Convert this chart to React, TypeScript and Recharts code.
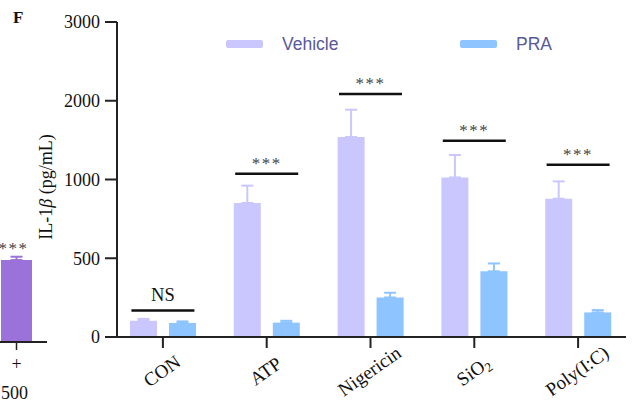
import { Bar, BarChart, ComposedChart, ErrorBar, LabelList, Legend, Scatter, XAxis, YAxis } from "recharts";

const categories = ["CON", "ATP", "Nigericin", "SiO2", "Poly(I:C)"];
const vehicleMean = [103, 851, 1540, 1026, 878];
const vehicleSem = [12, 110, 346, 285, 110];
const praMean = [89, 91, 251, 417, 156];
const praSem = [10, 12, 30, 50, 15];
const sigLevel = [169, 1074, 2086, 1493, 1188];
const sigText = ["NS", "***", "***", "***", "***"];
const yTicks = [0, 500, 1000, 2000, 3000];

// neighbouring panel, cut off at the left edge
const prevDose = ["+"];
const prevConc = ["500"];
const prevMean = [512];
const prevSem = [21];

const VEHICLE = "#c9c7fd";
const PRA = "#8ec4ff";
const SERIF = "'Liberation Serif', 'Times New Roman', serif";
const SANS = "'Liberation Sans', Arial, sans-serif";

// y axis is split at 1000: above it every unit gets half the height
const BREAK = 1000;
const squash = (v: number) => (v <= BREAK ? v : BREAK + (v - BREAK) / 2);
const unsquash = (v: number) => (v <= BREAK ? v : BREAK + (v - BREAK) * 2);

const rows = categories.map((name, i) => ({
  name,
  vehicle: squash(vehicleMean[i]),
  vehicleErr: [0, squash(vehicleMean[i] + vehicleSem[i]) - squash(vehicleMean[i])],
  pra: squash(praMean[i]),
  praErr: [0, squash(praMean[i] + praSem[i]) - squash(praMean[i])],
  sig: squash(sigLevel[i]),
  sigText: sigText[i],
}));

const prevRows = prevDose.map((dose, i) => ({
  dose,
  conc: prevConc[i],
  value: prevMean[i],
  err: [0, prevSem[i]],
  mark: "***",
}));

function CategoryTick({ x, y, payload }: any) {
  const label = String(payload.value);
  return (
    <g transform={`translate(${x - 1},${y + 21}) rotate(-35)`}>
      <text textAnchor="middle" dominantBaseline="central" fontSize={19} fontFamily={SERIF} fill="#111">
        {label === "SiO2" ? (
          <>
            SiO
            <tspan fontSize={13} dy={5}>
              2
            </tspan>
          </>
        ) : (
          label
        )}
      </text>
    </g>
  );
}

function SigMark({ cx, cy, payload }: any) {
  if (cx == null || cy == null) return null;
  const isNs = payload.sigText === "NS";
  return (
    <g>
      <line x1={cx - 31.5} x2={cx + 31.5} y1={cy} y2={cy} stroke="#111" strokeWidth={2.5} />
      <text
        x={cx}
        y={cy - (isNs ? 9 : 5)}
        textAnchor="middle"
        fontSize={isNs ? 18.5 : 17}
        fontFamily={SERIF}
        fill={isNs ? "#111" : "#444"}
        letterSpacing={isNs ? 0 : 1.5}
      >
        {payload.sigText}
      </text>
    </g>
  );
}

function SeriesLegend() {
  const items = [
    { name: "Vehicle", color: VEHICLE, x: 226 },
    { name: "PRA", color: PRA, x: 460 },
  ];
  return (
    <svg width={640} height={60}>
      {items.map((it) => (
        <g key={it.name}>
          <rect x={it.x} y={40} width={37} height={8} rx={2} fill={it.color} />
          <text x={it.x + 56} y={44} dominantBaseline="central" fontSize={17.5} fontFamily={SANS} fill="#58589a">
            {it.name}
          </text>
        </g>
      ))}
    </svg>
  );
}

function PrevTick({ x, y, payload, index }: any) {
  return (
    <g>
      <text x={x} y={y + 18} textAnchor="middle" fontSize={18} fontFamily={SERIF} fill="#111">
        {payload.value}
      </text>
      <text x={x - 2} y={y + 47} textAnchor="middle" fontSize={18} fontFamily={SERIF} fill="#111">
        {prevRows[index ?? 0]?.conc}
      </text>
    </g>
  );
}

export default function App() {
  return (
    <div style={{ position: "absolute", left: 0, top: 0, width: 640, height: 407, overflow: "hidden", background: "#fff" }}>
      <div style={{ position: "absolute", left: -14, top: 0 }}>
        <BarChart width={61} height={407} data={prevRows} margin={{ top: 22, right: 0, left: 0, bottom: 20 }}>
          <XAxis
            dataKey="dose"
            height={45}
            tickSize={8}
            axisLine={{ stroke: "#222", strokeWidth: 2 }}
            tickLine={{ stroke: "#222", strokeWidth: 1.5 }}
            tick={<PrevTick />}
          />
          <YAxis hide domain={[0, 2000]} />
          <Bar dataKey="value" fill="#9a72d9" barSize={31} isAnimationActive={false}>
            <ErrorBar dataKey="err" width={6} stroke="#9a72d9" strokeWidth={2} />
            <LabelList
              dataKey="mark"
              content={({ x, y, width, value }: any) => (
                <text x={x + width / 2 - 3} y={y - 6} textAnchor="middle" fontSize={17} fontFamily={SERIF} fill="#444" letterSpacing={1.5}>
                  {value}
                </text>
              )}
            />
          </Bar>
        </BarChart>
      </div>

      <div style={{ position: "absolute", left: 0, top: 0 }}>
        <ComposedChart width={640} height={407} data={rows} margin={{ top: 22, right: 14, left: 57, bottom: 20 }} barSize={27} barGap={12}>
          <XAxis
            dataKey="name"
            height={50}
            padding={{ left: -6, right: -4 }}
            tickSize={11}
            axisLine={{ stroke: "#222", strokeWidth: 2 }}
            tickLine={{ stroke: "#222", strokeWidth: 2 }}
            tick={<CategoryTick />}
            interval={0}
          />
          <YAxis
            width={60}
            domain={[0, squash(3000)]}
            ticks={yTicks.map(squash)}
            tickFormatter={(v: number) => String(unsquash(v))}
            tickSize={12}
            tickMargin={5}
            axisLine={{ stroke: "#222", strokeWidth: 2 }}
            tickLine={{ stroke: "#222", strokeWidth: 2 }}
            tick={{ fill: "#111", fontSize: 18, fontFamily: SERIF }}
            allowDataOverflow
            label={{
              content: () => (
                <text transform="translate(46,187) rotate(-90)" textAnchor="middle" dominantBaseline="central" fontSize={18} fontFamily={SERIF} fill="#111">
                  IL-1<tspan fontStyle="italic">β</tspan> (pg/mL)
                </text>
              ),
            }}
          />
          <Legend layout="vertical" align="center" verticalAlign="middle" wrapperStyle={{ position: "absolute", left: 0, top: 0, width: 640, height: 60 }} content={() => <SeriesLegend />} />
          <Bar dataKey="vehicle" name="Vehicle" fill={VEHICLE} isAnimationActive={false}>
            <ErrorBar dataKey="vehicleErr" width={6} stroke={VEHICLE} strokeWidth={2} />
          </Bar>
          <Bar dataKey="pra" name="PRA" fill={PRA} isAnimationActive={false}>
            <ErrorBar dataKey="praErr" width={6} stroke={PRA} strokeWidth={2} />
          </Bar>
          <Scatter dataKey="sig" legendType="none" shape={<SigMark />} isAnimationActive={false} />
        </ComposedChart>
      </div>

      <div style={{ position: "absolute", left: 13, top: 8, fontFamily: SERIF, fontWeight: "bold", fontSize: 17, color: "#111" }}>F</div>
    </div>
  );
}
